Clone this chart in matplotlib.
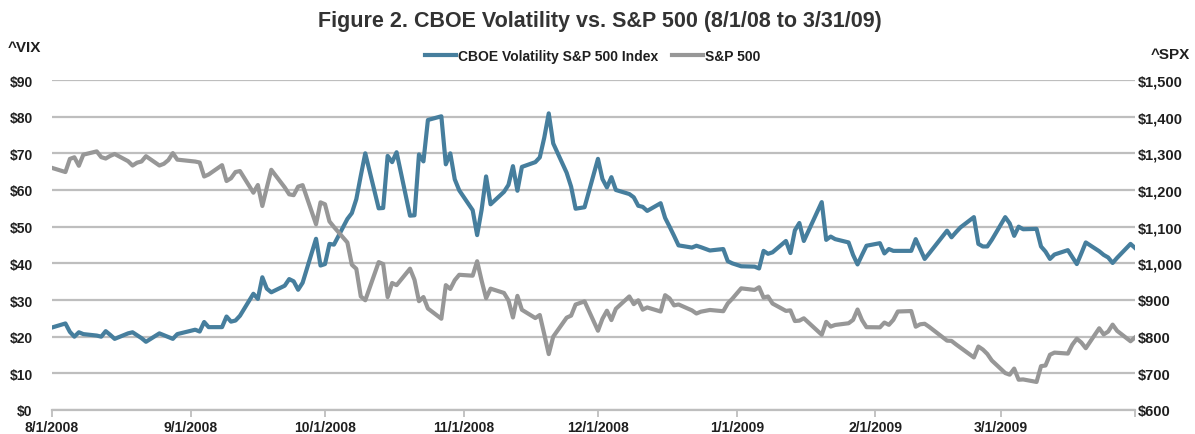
import matplotlib
matplotlib.use('Agg')
import matplotlib.pyplot as plt
import matplotlib.ticker as mticker
import pandas as pd

# ---------------- data ----------------
start_date = '2008-08-01'
end_date = '2009-03-31'
holidays = ['2008-09-01', '2008-11-27', '2008-12-25', '2009-01-01', '2009-01-19', '2009-02-16']

vix = [
    # Aug 2008
    22.5, 23.6, 21.3, 20.0, 21.2, 20.7, 20.3, 20.0, 21.5, 20.5, 19.4, 20.9, 21.2, 20.4, 19.6, 18.6, 20.9, 20.4, 19.9, 19.4, 20.7,
    # Sep 2008
    21.9, 21.4, 24.0, 22.6, 22.6, 25.5, 24.1, 24.4, 25.7, 31.7, 30.3, 36.2, 33.1, 32.1, 33.9, 35.7, 35.1, 32.8, 34.7, 46.7, 39.4,
    # Oct 2008
    39.8, 45.3, 45.1, 52.1, 53.7, 57.5, 63.9, 70.0, 55.0, 55.1, 69.3, 67.6, 70.3, 53.0, 53.1, 69.7, 67.8, 79.1, 80.1, 67.0, 70.0, 62.9, 59.9,
    # Nov 2008
    54.5, 47.7, 54.6, 63.7, 56.1, 59.5, 61.4, 66.5, 59.8, 66.3, 67.6, 68.9, 74.3, 80.9, 72.7, 64.7, 60.9, 54.9, 55.3,
    # Dec 2008
    68.5, 63.0, 60.7, 63.5, 60.0, 58.9, 58.0, 55.7, 55.4, 54.3, 56.4, 52.4, 50.0, 47.5, 44.9, 44.3, 44.8, 44.4, 43.5, 43.9, 40.6, 40.0,
    # Jan 2009
    39.2, 39.1, 38.6, 43.4, 42.6, 43.0, 46.1, 42.8, 49.0, 51.0, 46.1, 56.7, 46.4, 47.3, 46.6, 45.7, 42.3, 39.7, 42.3, 44.8,
    # Feb 2009
    45.5, 42.7, 43.9, 43.4, 43.4, 43.4, 46.6, 43.9, 41.2, 42.7, 48.9, 47.1, 48.5, 49.8, 52.6, 45.3, 44.6, 44.6, 46.4,
    # Mar 2009
    52.6, 50.9, 47.5, 50.0, 49.3, 49.4, 44.6, 43.2, 41.2, 42.4, 43.6, 41.7, 39.8, 42.7, 45.7, 43.3, 42.3, 41.6, 40.1, 41.5, 45.3, 44.2,
]

spx = [
    # Aug 2008
    1260.31, 1249.01, 1284.88, 1289.19, 1266.07, 1296.32, 1305.32, 1289.59, 1285.83, 1292.93, 1298.20, 1278.60, 1266.69, 1274.54,
    1277.72, 1292.20, 1266.84, 1271.51, 1281.66, 1300.68, 1282.83,
    # Sep 2008
    1277.58, 1274.98, 1236.83, 1242.31, 1267.79, 1224.51, 1232.04, 1249.05, 1251.70, 1192.70, 1213.60, 1156.39, 1206.51, 1255.08,
    1207.09, 1188.22, 1185.87, 1209.18, 1213.27, 1106.39, 1166.36,
    # Oct 2008
    1161.06, 1114.28, 1099.23, 1056.89, 996.23, 984.94, 909.92, 899.22, 1003.35, 998.01, 907.84, 946.43, 940.55, 985.40, 955.05,
    896.78, 908.11, 876.77, 848.92, 940.51, 930.09, 954.09, 968.75,
    # Nov 2008
    966.30, 1005.75, 952.77, 904.88, 930.99, 919.21, 898.95, 852.30, 911.29, 873.29, 850.75, 859.12, 806.58, 752.44, 800.03,
    851.81, 857.39, 887.68, 896.24,
    # Dec 2008
    816.21, 848.81, 870.74, 845.22, 876.07, 909.70, 888.67, 899.24, 873.59, 879.73, 868.57, 913.18, 904.42, 885.28, 887.88,
    871.63, 863.16, 868.15, 872.80, 869.42, 890.64, 903.25,
    # Jan 2009
    931.80, 927.45, 934.70, 906.65, 909.73, 890.35, 870.26, 871.79, 842.62, 843.74, 850.12, 805.22, 840.24, 827.50, 831.95,
    836.57, 845.71, 874.09, 845.14, 825.88,
    # Feb 2009
    825.44, 838.51, 832.23, 845.85, 868.60, 869.89, 827.16, 833.74, 835.19, 826.84, 789.17, 788.42, 778.94, 770.05, 743.33,
    773.14, 764.90, 752.83, 735.09,
    # Mar 2009
    700.82, 696.33, 712.87, 682.55, 683.38, 676.53, 719.60, 721.36, 750.74, 756.55, 753.89, 778.12, 794.35, 784.04, 768.54,
    822.92, 806.12, 813.88, 832.86, 815.94, 787.53, 797.87,
]

month_ticks = ['2008-08-01', '2008-09-01', '2008-10-01', '2008-11-01', '2008-12-01',
               '2009-01-01', '2009-02-01', '2009-03-01']
month_labels = ['8/1/2008', '9/1/2008', '10/1/2008', '11/1/2008', '12/1/2008',
                '1/1/2009', '2/1/2009', '3/1/2009']

title = 'Figure 2. CBOE Volatility vs. S&P 500 (8/1/08 to 3/31/09)'
vix_label = 'CBOE Volatility S&P 500 Index'
spx_label = 'S&P 500'

# ---------------- style ----------------
plt.rcParams['font.family'] = ['Liberation Sans', 'DejaVu Sans']
VIX_COLOR = '#467e9d'
SPX_COLOR = '#979797'
GRID_COLOR = '#bebebe'
TEXT_COLOR = '#1f1f1f'

dates = pd.bdate_range(start_date, end_date, freq='C', holidays=holidays)

W, H = 1195, 435
fig = plt.figure(figsize=(W / 100, H / 100), dpi=100)
L, R, T, B = 52, 1135, 81, 411
ax = fig.add_axes([L / W, 1 - B / H, (R - L) / W, (B - T) / H])
ax2 = ax.twinx()

ax.plot(dates, vix, color=VIX_COLOR, lw=3.0, solid_joinstyle='round', zorder=3)
ax2.plot(dates, spx, color=SPX_COLOR, lw=3.0, solid_joinstyle='round', zorder=3)

ax.set_xlim(pd.Timestamp(start_date), pd.Timestamp(end_date))
ax.set_ylim(0, 90)
ax2.set_ylim(600, 1500)
ax.set_yticks(range(0, 91, 10))
ax2.set_yticks(range(600, 1501, 100))
ax.yaxis.set_major_formatter(mticker.FuncFormatter(lambda v, p: f'${v:,.0f}'))
ax2.yaxis.set_major_formatter(mticker.FuncFormatter(lambda v, p: f'${v:,.0f}'))

ax.set_xticks(pd.to_datetime(month_ticks))
ax.set_xticklabels(month_labels)
ax.set_xticks([pd.Timestamp(end_date)], minor=True)

ax.set_axisbelow(True)
ax.yaxis.grid(True, color=GRID_COLOR, lw=1.6)
for a in (ax, ax2):
    for s in a.spines.values():
        s.set_visible(False)
ax.spines['bottom'].set_visible(True)
ax.spines['bottom'].set_color(GRID_COLOR)
ax.spines['bottom'].set_linewidth(1.6)

ax.tick_params(axis='y', length=0, pad=14)
ax2.tick_params(axis='y', length=0, pad=2)
ax.tick_params(axis='x', which='both', length=5, width=1.3, color=GRID_COLOR, pad=2)
for lab in ax.get_yticklabels() + ax.get_xticklabels():
    lab.set_fontsize(10)
    lab.set_fontweight('bold')
    lab.set_color(TEXT_COLOR)
for lab in ax2.get_yticklabels():
    lab.set_fontsize(10.5)
    lab.set_fontweight('bold')
    lab.set_color(TEXT_COLOR)

fig.text(0.502, 1 - 22 / H, title, ha='center', va='center', fontsize=15.5, fontweight='bold', color='#333333')
fig.text(8 / W, 1 - 48 / H, '^VIX', ha='left', va='center', fontsize=11, fontweight='bold', color=TEXT_COLOR)
fig.text(1190 / W, 1 - 55 / H, '^SPX', ha='right', va='center', fontsize=11, fontweight='bold', color=TEXT_COLOR)

h1 = plt.Line2D([], [], color=VIX_COLOR, lw=3.0)
h2 = plt.Line2D([], [], color=SPX_COLOR, lw=3.0)
fig.legend([h1, h2], [vix_label, spx_label], loc='center', bbox_to_anchor=(0.496, 1 - 57 / H),
           ncol=2, frameon=False, handlelength=2.2, handletextpad=0.15, columnspacing=1.0,
           prop=dict(size=10, weight='bold'), labelcolor=TEXT_COLOR)

fig.savefig('out.png', dpi=100)
